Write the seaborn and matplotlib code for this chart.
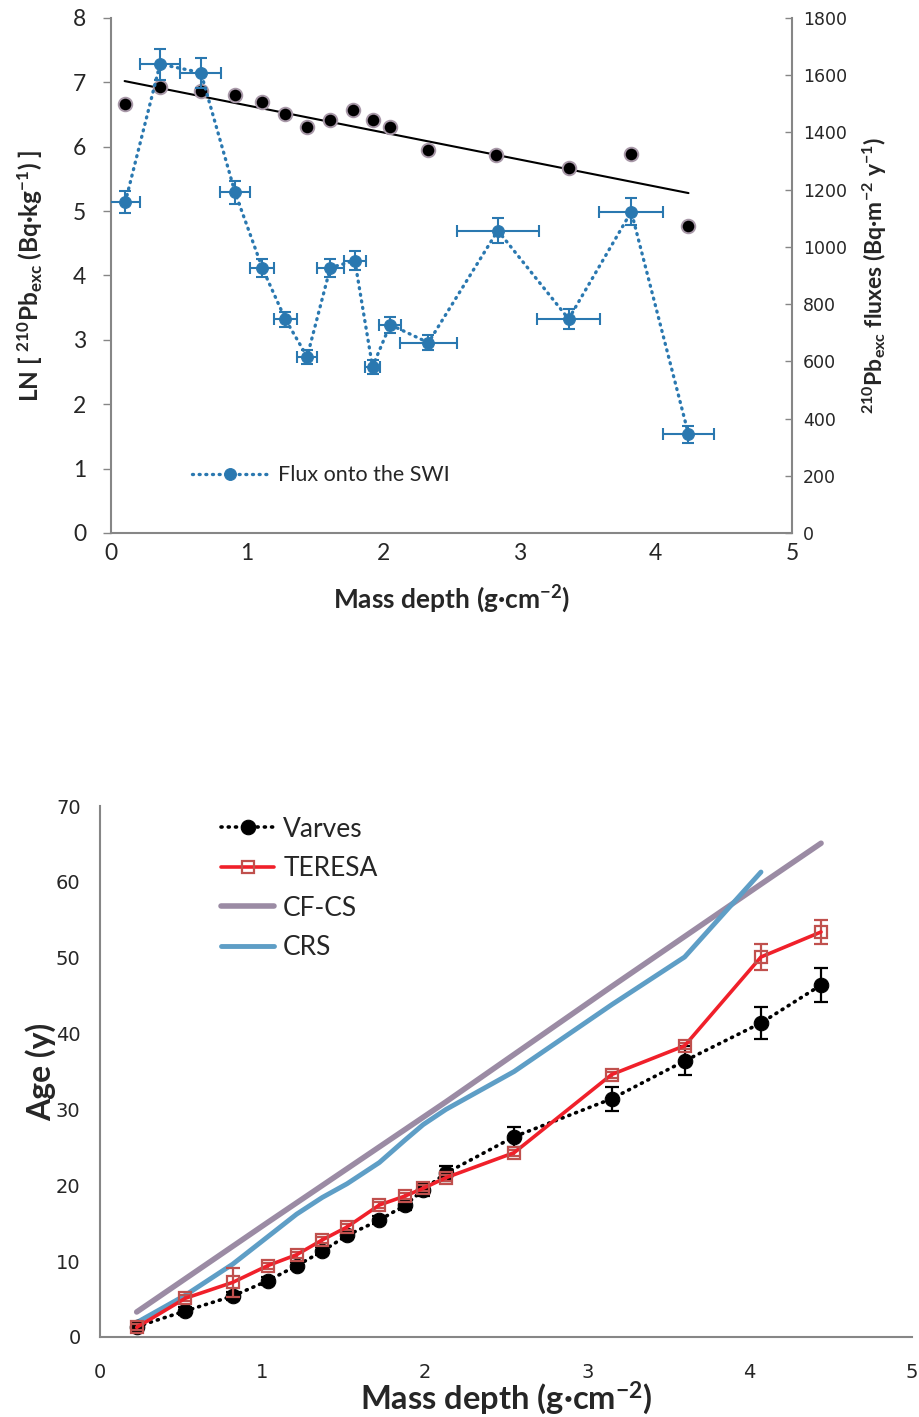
import numpy as np
import pandas as pd
import matplotlib
matplotlib.use("Agg")
import matplotlib.pyplot as plt
import seaborn as sns

# ---------------- data : top panel ----------------
ln_depth = [0.10, 0.36, 0.66, 0.91, 1.11, 1.28, 1.44, 1.61, 1.78, 1.92, 2.05, 2.33, 2.83, 3.36, 3.82, 4.24]
ln_activity = [6.66, 6.93, 6.86, 6.80, 6.69, 6.51, 6.30, 6.41, 6.57, 6.41, 6.30, 5.95, 5.87, 5.67, 5.89, 4.77]
trend_x = [0.10, 4.24]
trend_y = [7.02, 5.28]

flux_depth = [0.105, 0.36, 0.66, 0.91, 1.11, 1.28, 1.44, 1.61, 1.79, 1.92, 2.05, 2.33, 2.84, 3.36, 3.82, 4.24]
flux_value = [1157, 1639, 1609, 1191, 927, 747, 616, 927, 952, 581, 728, 665, 1057, 748, 1123, 345]
flux_xerr = [0.11, 0.15, 0.15, 0.11, 0.09, 0.083, 0.076, 0.10, 0.083, 0.055, 0.08, 0.21, 0.30, 0.23, 0.235, 0.19]
flux_yerr = [39, 54, 52, 40, 31, 27, 24, 31, 33, 24, 28, 27, 45, 35, 47, 29]

# ---------------- data : bottom panel ----------------
age_depth = [0.226, 0.525, 0.817, 1.032, 1.211, 1.369, 1.521, 1.72, 1.88, 1.99, 2.13, 2.55, 3.15, 3.60, 4.07, 4.44]
varves_age = [1.36, 3.43, 5.4, 7.4, 9.4, 11.3, 13.4, 15.4, 17.4, 19.4, 21.6, 26.4, 31.4, 36.4, 41.4, 46.4]
varves_err = [0.5, 0.5, 0.5, 0.5, 0.5, 0.5, 0.5, 0.5, 0.7, 0.8, 1.0, 1.3, 1.6, 1.9, 2.1, 2.3]
teresa_age = [1.27, 5.1, 7.2, 9.4, 10.85, 12.8, 14.5, 17.4, 18.6, 19.6, 21.0, 24.3, 34.6, 38.4, 50.1, 53.4]
teresa_err = [0.4, 0.4, 1.9, 0.4, 0.4, 0.4, 0.4, 0.4, 0.4, 0.4, 0.4, 0.4, 0.4, 0.4, 1.65, 1.6]
cfcs_depth = [0.226, 1.032, 2.13, 3.15, 4.07, 4.44]
cfcs_age = [3.3, 15.1, 31.0, 46.2, 59.7, 65.1]
crs_depth = [0.226, 0.525, 0.817, 1.032, 1.211, 1.369, 1.521, 1.72, 1.88, 1.99, 2.13, 2.55, 3.15, 3.60, 4.07]
crs_age = [1.9, 5.5, 9.6, 13.2, 16.2, 18.4, 20.2, 23.0, 26.0, 28.0, 30.0, 35.0, 43.8, 50.1, 61.3]

top_xticks = [0, 1, 2, 3, 4, 5]
top_lticks = [0, 1, 2, 3, 4, 5, 6, 7, 8]
top_rticks = [0, 200, 400, 600, 800, 1000, 1200, 1400, 1600, 1800]
bot_yticks = [0, 10, 20, 30, 40, 50, 60, 70]

# ---------------- style ----------------
sns.set_style("white")
plt.rcParams["font.family"] = ["Lato", "DejaVu Sans"]
plt.rcParams["mathtext.fontset"] = "custom"
plt.rcParams["mathtext.rm"] = "Lato"
plt.rcParams["mathtext.bf"] = "Lato:bold"
plt.rcParams["mathtext.it"] = "Lato:italic"
plt.rcParams["mathtext.default"] = "bf"

GRAY = "#868686"
BLUE = "#2a78b0"

fig = plt.figure(figsize=(9.19, 14.17), dpi=100)

# ================= top panel =================
ax1 = fig.add_axes([0.1208, 0.6239, 0.741, 0.3634])
ax2 = ax1.twinx()

sns.scatterplot(x=ln_depth, y=ln_activity, ax=ax1, color="black", s=95,
                edgecolor="#a898a8", linewidth=1.4, zorder=3)
sns.lineplot(x=trend_x, y=trend_y, ax=ax1, color="black", lw=1.5, zorder=2)

ax2.errorbar(flux_depth, flux_value, xerr=flux_xerr, yerr=flux_yerr, fmt="none",
             ecolor=BLUE, elinewidth=1.5, capsize=4.5, capthick=1.5, zorder=3)
sns.lineplot(x=flux_depth, y=flux_value, ax=ax2, color=BLUE, lw=2.4,
             linestyle=(0, (0.3, 1.7)), dash_capstyle="round",
             marker="o", markersize=8.5, markeredgecolor=BLUE,
             label="Flux onto the SWI", zorder=4, sort=False)

ax1.set_xlim(0, 5)
ax1.set_ylim(0, 8)
ax2.set_ylim(0, 1800)
ax1.set_xticks(top_xticks)
ax1.set_yticks(top_lticks)
ax2.set_yticks(top_rticks)
ax1.tick_params(axis="y", direction="out", length=6, width=1, color=GRAY,
                labelsize=16.5, pad=12)
ax1.tick_params(axis="x", direction="out", length=5, width=1, color=GRAY,
                labelsize=16.5, pad=2)
ax2.tick_params(axis="y", direction="in", length=5, width=1, color=GRAY, pad=8)
for lab in ax2.get_yticklabels():
    lab.set_fontfamily("DejaVu Sans")
    lab.set_fontsize(12.5)

ax1.spines["top"].set_visible(False)
ax2.spines["top"].set_visible(False)
for sp in ["left", "bottom"]:
    ax1.spines[sp].set_color(GRAY)
    ax1.spines[sp].set_linewidth(1.5)
ax1.spines["right"].set_visible(False)
ax2.spines["left"].set_visible(False)
ax2.spines["bottom"].set_visible(False)
ax2.spines["right"].set_color(GRAY)
ax2.spines["right"].set_linewidth(1.5)

ax1.set_xlabel("Mass depth (g·cm$^{-2}$)", fontsize=19, fontweight="bold", labelpad=14)
ax1.set_ylabel("LN [ $^{210}$Pb$_{exc}$ (Bq·kg$^{-1}$) ]", fontsize=17.5,
               fontweight="bold", labelpad=20)
ax2.set_ylabel("$^{210}$Pb$_{exc}$ fluxes (Bq·m$^{-2}$ y$^{-1}$)", fontsize=16.5,
               fontweight="bold", labelpad=10)

ax2.legend(loc="lower left", bbox_to_anchor=(0.09, 0.055), frameon=False,
           fontsize=15.5, handlelength=3.6, handletextpad=0.4)

# ================= bottom panel =================
ax3 = fig.add_axes([0.1088, 0.05646, 0.8836, 0.3747])

sns.lineplot(x=cfcs_depth, y=cfcs_age, ax=ax3, color="#9b8ba4", lw=4,
             label="CF-CS", zorder=2, sort=False)
sns.lineplot(x=crs_depth, y=crs_age, ax=ax3, color="#5e9ec6", lw=3.5,
             label="CRS", zorder=2, sort=False)
ax3.errorbar(age_depth, varves_age, yerr=varves_err, fmt="none", ecolor="black",
             elinewidth=1.6, capsize=5, capthick=1.6, zorder=3)
sns.lineplot(x=age_depth, y=varves_age, ax=ax3, color="black", lw=2.6,
             linestyle=(0, (0.3, 1.7)), dash_capstyle="round",
             marker="o", markersize=10.5, markeredgecolor="black",
             label="Varves", zorder=4, sort=False)
ax3.errorbar(age_depth, teresa_age, yerr=teresa_err, fmt="none", ecolor="#c0504d",
             elinewidth=1.6, capsize=5, capthick=1.6, zorder=5)
sns.lineplot(x=age_depth, y=teresa_age, ax=ax3, color="#f0202a", lw=2.6,
             marker="s", markersize=9, markerfacecolor="none",
             markeredgecolor="#c0504d", markeredgewidth=1.6,
             label="TERESA", zorder=6, sort=False)

ax3.set_xlim(0, 5)
ax3.set_ylim(0, 70)
ax3.set_xticks(top_xticks)
ax3.set_yticks(bot_yticks)
ax3.tick_params(axis="y", direction="out", length=6, width=1, color=GRAY, pad=8)
ax3.tick_params(axis="x", direction="out", length=5, width=1, color=GRAY, pad=14)
for lab in ax3.get_yticklabels() + ax3.get_xticklabels():
    lab.set_fontfamily("DejaVu Sans")
    lab.set_fontsize(14)
for sp in ["top", "right"]:
    ax3.spines[sp].set_visible(False)
for sp in ["left", "bottom"]:
    ax3.spines[sp].set_color(GRAY)
    ax3.spines[sp].set_linewidth(1.5)

ax3.set_xlabel("Mass depth (g·cm$^{-2}$)", fontsize=23.5, fontweight="bold", labelpad=-2)
ax3.set_ylabel("Age (y)", fontsize=23, fontweight="bold", labelpad=0)

handles, labels = ax3.get_legend_handles_labels()
order = ["Varves", "TERESA", "CF-CS", "CRS"]
hmap = dict(zip(labels, handles))
ax3.legend([hmap[k] for k in order], order, loc="upper left",
           bbox_to_anchor=(0.12, 1.025), frameon=False, fontsize=19,
           handlelength=2.0, handletextpad=0.35, labelspacing=0.55)

fig.savefig("out.png", dpi=100)
